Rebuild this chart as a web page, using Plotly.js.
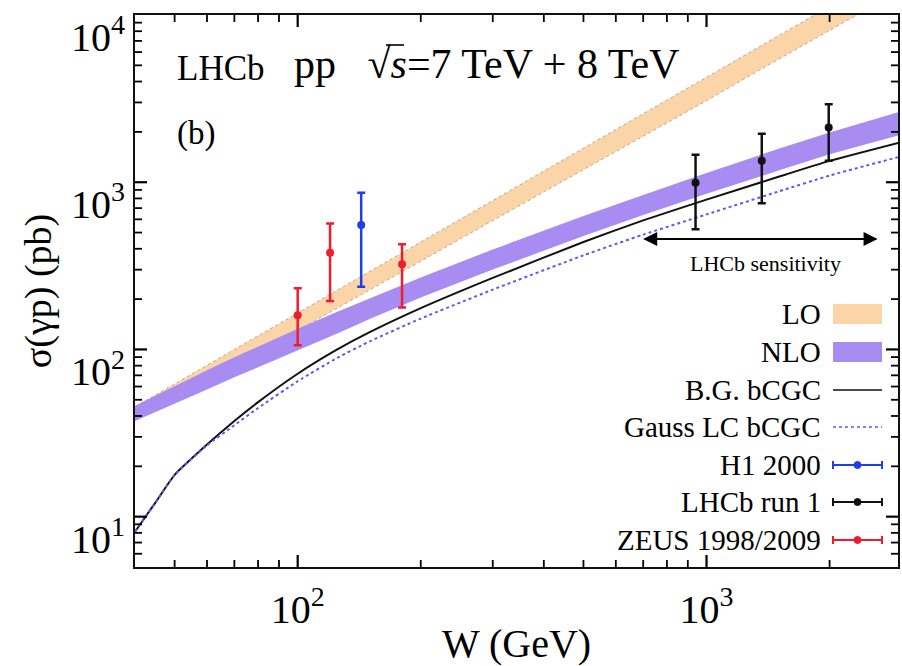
<!DOCTYPE html>
<html><head><meta charset="utf-8">
<script src="https://cdn.plot.ly/plotly-3.0.1.min.js"></script>
<style>html,body{margin:0;padding:0;background:#fff}#chart{width:902px;height:666px}</style>
</head><body><div id="chart"></div>
<script>
// ---- data ----
const W            = [40, 45, 50, 60, 70, 80, 100, 125, 150, 200, 300, 500, 700, 1000, 1500, 2000, 3000];
const LO_low       = [37.8, 44.1, 50.6, 64.7, 79.4, 95.9, 130, 176, 228, 337, 590, 1186, 1884, 3076, 5445, 8091, 14160];
const LO_high      = [45.4, 53.6, 62.2, 80.5, 100, 120.8, 165.6, 227, 293, 440, 778, 1600, 2570, 4246, 7516, 11300, 20000];
const NLO_low      = [37.4, 42.3, 47.5, 57.7, 68.1, 78.2, 98.6, 124.7, 152.1, 204.6, 300.6, 476.4, 636.8, 853.1, 1174.9, 1472.3, 1927.5];
const NLO_high     = [46.0, 53.2, 60.5, 75.2, 89.7, 104.2, 133.0, 168.3, 202.8, 269.8, 396.3, 628.1, 839.5, 1137.6, 1584.9, 1986.1, 2660.7];
const BG_bCGC      = [8.13, 12.26, 17.77, 26.98, 37.33, 48.42, 71.6, 100, 126.8, 176.6, 267.9, 439.5, 591.6, 787.0, 1078.9, 1342.8, 1741.8];
const GaussLC_bCGC = [8.13, 12.26, 17.77, 26.67, 35.24, 44.67, 64.57, 89.13, 111.7, 153.1, 228.0, 365.6, 486.4, 642.7, 881.0, 1096.5, 1432.2];

const H1_W = [143],               H1_sigma = [555],              H1_up = [867],               H1_down = [237];
const ZEUS_W = [100, 120, 180],   ZEUS_sigma = [160, 379, 323],  ZEUS_up = [232, 566, 426],   ZEUS_down = [106, 195, 178];
const LHCb_W = [940, 1365, 1990], LHCb_sigma = [995, 1343, 2125], LHCb_up = [1459, 1954, 2930], LHCb_down = [524, 748, 1343];

const sensitivityRange = [700, 2620];
const xRangeW = [40, 2940];
const yRangeSigma = [5, 10000];
const xTickVals = [100, 1000];
const xTickText = ['10<sup>2</sup>', '10<sup>3</sup>'];
const yTickVals = [10, 100, 1000, 10000];
const yTickText = ['10<sup>1</sup>', '10<sup>2</sup>', '10<sup>3</sup>', '10<sup>4</sup>'];
const legendLabels = ['LO', 'NLO', 'B.G. bCGC', 'Gauss LC bCGC', 'H1 2000', 'LHCb run 1', 'ZEUS 1998/2009'];

// ---- styles ----
const FONT = '"Liberation Serif", "Times New Roman", serif';
const C_LO = '#fbd4a8', C_NLO = '#a98cf1', C_DOT = '#5a5af0', C_LOEDGE = '#bfa88e';
const C_RED = '#ee1c2e', C_BLUE = '#1f3fe8', C_BLK = '#111111', C_AX = '#000';

function minorVals(lo, hi, rng) {
  const v = [];
  for (let d = lo; d <= hi; d *= 10) for (let m = 2; m <= 9; m++) {
    const t = m * d; if (t > rng[0] && t < rng[1]) v.push(t);
  }
  return v;
}

function errTrace(x, y, up, down, color, name) {
  return {
    x: x, y: y, type: 'scatter', mode: 'markers', name: name,
    marker: {color: color, size: 8},
    error_y: {type: 'data', symmetric: false,
      array: y.map((v, i) => up[i] - v), arrayminus: y.map((v, i) => v - down[i]),
      color: color, thickness: 2.5, width: 4},
    showlegend: false, hoverinfo: 'skip'
  };
}

const traces = [
  {x: W, y: LO_low, type: 'scatter', mode: 'lines', line: {width: 1, color: C_LOEDGE, dash: 'dot'}, showlegend: false, hoverinfo: 'skip'},
  {x: W, y: LO_high, type: 'scatter', mode: 'lines', fill: 'tonexty', fillcolor: C_LO, line: {width: 1, color: C_LOEDGE, dash: 'dot'}, showlegend: false, hoverinfo: 'skip'},
  {x: W, y: NLO_low, type: 'scatter', mode: 'lines', line: {width: 0, color: C_NLO}, showlegend: false, hoverinfo: 'skip'},
  {x: W, y: NLO_high, type: 'scatter', mode: 'lines', fill: 'tonexty', fillcolor: C_NLO, line: {width: 0, color: C_NLO}, showlegend: false, hoverinfo: 'skip'},
  {x: W, y: BG_bCGC, type: 'scatter', mode: 'lines', line: {width: 2, color: C_BLK, shape: 'spline', smoothing: 0.5}, showlegend: false},
  {x: W, y: GaussLC_bCGC, type: 'scatter', mode: 'lines', line: {width: 2, color: C_DOT, dash: 'dot', shape: 'spline', smoothing: 0.5}, showlegend: false},
  errTrace(ZEUS_W, ZEUS_sigma, ZEUS_up, ZEUS_down, C_RED, 'ZEUS'),
  errTrace(H1_W, H1_sigma, H1_up, H1_down, C_BLUE, 'H1'),
  errTrace(LHCb_W, LHCb_sigma, LHCb_up, LHCb_down, C_BLK, 'LHCb')
];

// plot-area pixel helpers (for decorations only)
const PL = 135, PR = 898, PT = 15, PB = 567;
const PW = PR - PL, PH = PB - PT;
const px = x => (x - PL) / PW;
const py = y => (PB - y) / PH;
const X0 = Math.log10(xRangeW[0]), X1 = Math.log10(xRangeW[1]);
const Y0 = Math.log10(yRangeSigma[0]), Y1 = Math.log10(yRangeSigma[1]);
const xf = v => (Math.log10(v) - X0) / (X1 - X0);
const yf = v => (Math.log10(v) - Y0) / (Y1 - Y0);

const NB = '\u00A0';
const annotations = [
  {xref: 'paper', yref: 'paper', x: px(175), y: py(68), xanchor: 'left', yanchor: 'middle', showarrow: false,
   text: 'LHCb', font: {family: FONT, size: 35, color: '#000'}},
  {xref: 'paper', yref: 'paper', x: px(292), y: py(64), xanchor: 'left', yanchor: 'middle', showarrow: false,
   text: 'pp' + NB + NB + NB + '√<i>s</i>=7 TeV + 8 TeV', font: {family: FONT, size: 42, color: '#000'}},
  {xref: 'paper', yref: 'paper', x: px(175), y: py(134), xanchor: 'left', yanchor: 'middle', showarrow: false,
   text: '(b)', font: {family: FONT, size: 33, color: '#000'}},
  {xref: 'x', yref: 'paper', x: Math.log10(sensitivityRange[1]), y: py(239), axref: 'x', ayref: 'pixel',
   ax: Math.log10(sensitivityRange[0]), ay: 0, text: '', showarrow: true, arrowhead: 2, arrowsize: 1.4, arrowwidth: 2, arrowcolor: '#000'},
  {xref: 'x', yref: 'paper', x: Math.log10(sensitivityRange[0]), y: py(239), axref: 'x', ayref: 'pixel',
   ax: Math.log10(sensitivityRange[1]), ay: 0, text: '', showarrow: true, arrowhead: 2, arrowsize: 1.4, arrowwidth: 2, arrowcolor: '#000'},
  {xref: 'paper', yref: 'paper', x: px(765), y: py(263), xanchor: 'center', yanchor: 'middle', showarrow: false,
   text: 'LHCb sensitivity', font: {family: FONT, size: 22, color: '#000'}}
];

const shapes = [
  {type: 'line', xref: 'paper', yref: 'paper', x0: px(386), x1: px(404), y0: py(45), y1: py(45), line: {color: '#000', width: 1.6}}
];

// axis ticks (inside, on all four sides), placed on the log scale of the axis ranges
function addXTicks(vals, len, w) {
  vals.forEach(v => {
    const f = xf(v);
    shapes.push({type: 'line', xref: 'paper', yref: 'paper', layer: 'above', x0: f, x1: f, y0: 0, y1: len / PH, line: {color: C_AX, width: w}});
    shapes.push({type: 'line', xref: 'paper', yref: 'paper', layer: 'above', x0: f, x1: f, y0: 1, y1: 1 - len / PH, line: {color: C_AX, width: w}});
  });
}
function addYTicks(vals, len, w) {
  vals.forEach(v => {
    const f = yf(v);
    shapes.push({type: 'line', xref: 'paper', yref: 'paper', layer: 'above', x0: 0, x1: len / PW, y0: f, y1: f, line: {color: C_AX, width: w}});
    shapes.push({type: 'line', xref: 'paper', yref: 'paper', layer: 'above', x0: 1, x1: 1 - len / PW, y0: f, y1: f, line: {color: C_AX, width: w}});
  });
}
addXTicks(xTickVals, 12, 2.2);
addXTicks(minorVals(10, 1000, xRangeW), 7, 1.8);
addYTicks(yTickVals.filter(v => v < yRangeSigma[1]), 12, 2.2);
addYTicks(minorVals(1, 1000, yRangeSigma), 7, 1.8);

const rowY = [314, 352, 390, 427, 465, 502, 540];
const sx0 = 833, sx1 = 882, sxm = 857.5;
legendLabels.forEach((lab, i) => {
  annotations.push({xref: 'paper', yref: 'paper', x: px(823), y: py(rowY[i]), xanchor: 'right', yanchor: 'middle',
    showarrow: false, text: lab, font: {family: FONT, size: 29, color: '#000'}});
});
shapes.push({type: 'rect', xref: 'paper', yref: 'paper', x0: px(sx0), x1: px(sx1), y0: py(rowY[0] - 10), y1: py(rowY[0] + 10), fillcolor: C_LO, line: {width: 0}});
shapes.push({type: 'rect', xref: 'paper', yref: 'paper', x0: px(sx0), x1: px(sx1), y0: py(rowY[1] - 10), y1: py(rowY[1] + 10), fillcolor: C_NLO, line: {width: 0}});
shapes.push({type: 'line', xref: 'paper', yref: 'paper', x0: px(sx0), x1: px(sx1), y0: py(rowY[2]), y1: py(rowY[2]), line: {color: C_BLK, width: 1.5}});
shapes.push({type: 'line', xref: 'paper', yref: 'paper', x0: px(sx0), x1: px(sx1), y0: py(rowY[3]), y1: py(rowY[3]), line: {color: C_DOT, width: 1.5, dash: 'dot'}});
[[4, C_BLUE], [5, C_BLK], [6, C_RED]].forEach(([i, c]) => {
  const y = rowY[i];
  shapes.push({type: 'line', xref: 'paper', yref: 'paper', x0: px(sx0), x1: px(sx1), y0: py(y), y1: py(y), line: {color: c, width: 2}});
  shapes.push({type: 'line', xref: 'paper', yref: 'paper', x0: px(sx0), x1: px(sx0), y0: py(y - 4), y1: py(y + 4), line: {color: c, width: 2}});
  shapes.push({type: 'line', xref: 'paper', yref: 'paper', x0: px(sx1), x1: px(sx1), y0: py(y - 4), y1: py(y + 4), line: {color: c, width: 2}});
  shapes.push({type: 'circle', xref: 'paper', yref: 'paper', x0: px(sxm - 3.5), x1: px(sxm + 3.5), y0: py(y + 3.5), y1: py(y - 3.5), fillcolor: c, line: {color: c, width: 1}});
});

const axisCommon = {
  type: 'log', showline: true, mirror: true, linecolor: '#111', linewidth: 2,
  showgrid: false, zeroline: false, ticks: '',
  tickmode: 'array', tickfont: {family: FONT, size: 40, color: '#000'}
};

const layout = {
  width: 902, height: 666,
  margin: {l: PL, r: 902 - PR, t: PT, b: 666 - PB},
  plot_bgcolor: '#fff', paper_bgcolor: '#fff',
  showlegend: false,
  xaxis: Object.assign({}, axisCommon, {
    range: [X0, X1],
    tickvals: xTickVals, ticktext: xTickText,
    ticklabelstandoff: 6,
    title: {text: 'W (GeV)', font: {family: FONT, size: 40, color: '#000'}, standoff: 10}
  }),
  yaxis: Object.assign({}, axisCommon, {
    range: [Y0, Y1 + 0.0005],
    tickvals: yTickVals, ticktext: yTickText,
    ticklabelshift: 22,
    ticklabeloverflow: 'allow',
    title: {text: 'σ(γp) (pb)', font: {family: FONT, size: 38, color: '#000'}, standoff: 8}
  }),
  annotations: annotations,
  shapes: shapes
};

Plotly.newPlot('chart', traces, layout, {displayModeBar: false, staticPlot: true});
</script>
</body></html>
